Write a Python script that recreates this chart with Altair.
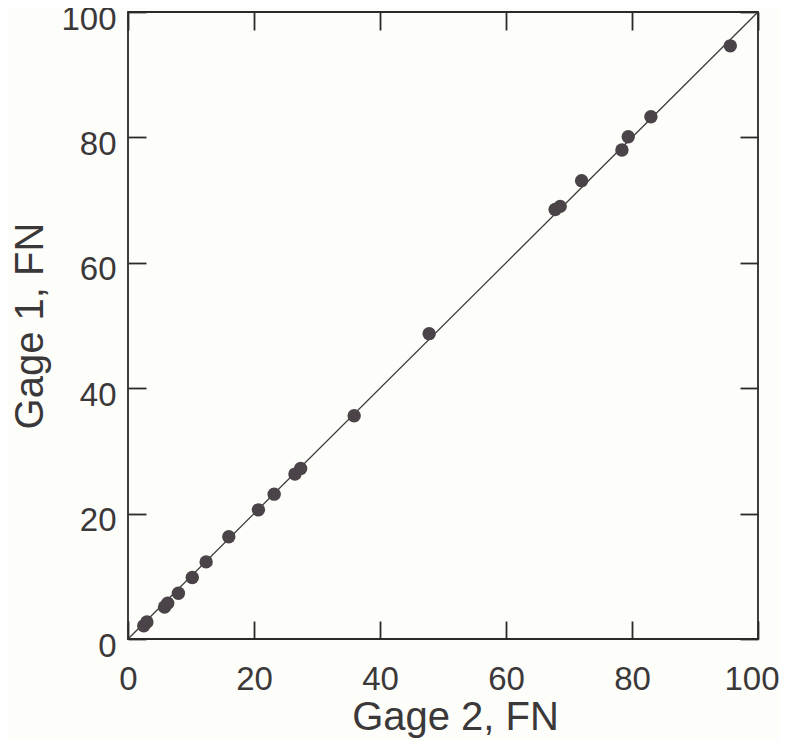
import altair as alt
import pandas as pd

# Data
gage2 = [2.5, 3.0, 5.8, 6.3, 8.0, 10.2, 12.4, 16.0, 20.7, 23.2, 26.5, 27.4, 35.9, 47.8, 67.8, 68.6, 72.0, 78.4, 79.4, 83.0, 95.6]
gage1 = [2.1, 2.7, 5.1, 5.7, 7.3, 9.8, 12.3, 16.3, 20.6, 23.1, 26.3, 27.2, 35.6, 48.7, 68.5, 69.0, 73.1, 78.0, 80.1, 83.3, 94.6]
line_x = [0, 100]
line_y = [0, 100]
ticks = [0, 20, 40, 60, 80, 100]

pts = pd.DataFrame({"g2": gage2, "g1": gage1})
ln = pd.DataFrame({"g2": line_x, "g1": line_y})

W, H = 630, 627
TXT = "#3b3839"
FONT = "Liberation Sans"

xs = alt.Scale(domain=[0, 100], nice=False, zero=False)
ys = alt.Scale(domain=[0, 100], nice=False, zero=False)

# Layer with labels/titles (bottom & left)
points = alt.Chart(pts).mark_circle(size=180, color="#4a4448", opacity=1).encode(
    x=alt.X("g2:Q", scale=xs, axis=alt.Axis(
        orient="bottom", values=ticks, ticks=False, tickSize=0, domain=False, grid=False,
        labelFlush=False, labelOverlap=False,
        labelAlign={"condition": {"test": "datum.value == 100", "value": "right"}, "value": "center"},
        labelOffset={"condition": {"test": "datum.value == 100", "value": 21}, "value": 0},
        labelFontSize=33, labelFont=FONT, labelColor=TXT, labelPadding=24,
        title="Gage 2, FN", titleFontSize=40, titleFont=FONT, titleColor=TXT,
        titleFontWeight="normal", titlePadding=1, titleX=327)),
    y=alt.Y("g1:Q", scale=ys, axis=alt.Axis(
        orient="left", values=ticks, ticks=False, tickSize=0, domain=False, grid=False,
        labelFlush=False, labelOverlap=False, labelOffset=7,
        labelFontSize=33, labelFont=FONT, labelColor=TXT, labelPadding=12,
        title="Gage 1, FN", titleFontSize=40, titleFont=FONT, titleColor=TXT,
        titleFontWeight="normal", titlePadding=10)),
)

TICK = dict(values=ticks, labels=False, domain=False, grid=False, ticks=True,
            tickSize=18, tickColor="#2a2a2a", tickWidth=1.8, title=None)

# Line layer: carries inward ticks on bottom and left edges
line = alt.Chart(ln).mark_line(color="#3a3a3a", strokeWidth=1.3).encode(
    x=alt.X("g2:Q", scale=xs, axis=alt.Axis(orient="top", offset=-H, **TICK)),
    y=alt.Y("g1:Q", scale=ys, axis=alt.Axis(orient="right", offset=-W, **TICK)),
)

# Transparent layer: carries inward ticks on top and right edges
frame = alt.Chart(ln).mark_line(opacity=0).encode(
    x=alt.X("g2:Q", scale=xs, axis=alt.Axis(orient="bottom", offset=-H, **TICK)),
    y=alt.Y("g1:Q", scale=ys, axis=alt.Axis(orient="left", offset=-W, **TICK)),
)

chart = alt.layer(line, points, frame).resolve_axis(
    x="independent", y="independent"
).properties(
    width=W, height=H,
    autosize=alt.AutoSizeParams(type="none"),
    padding={"left": 120, "top": 4, "right": 21, "bottom": 102},
    background="#fdfdfa",
).configure_view(stroke="#2a2a2a", strokeWidth=1.8)

chart.save("out.html", embed_options={"renderer": "svg", "actions": False})
